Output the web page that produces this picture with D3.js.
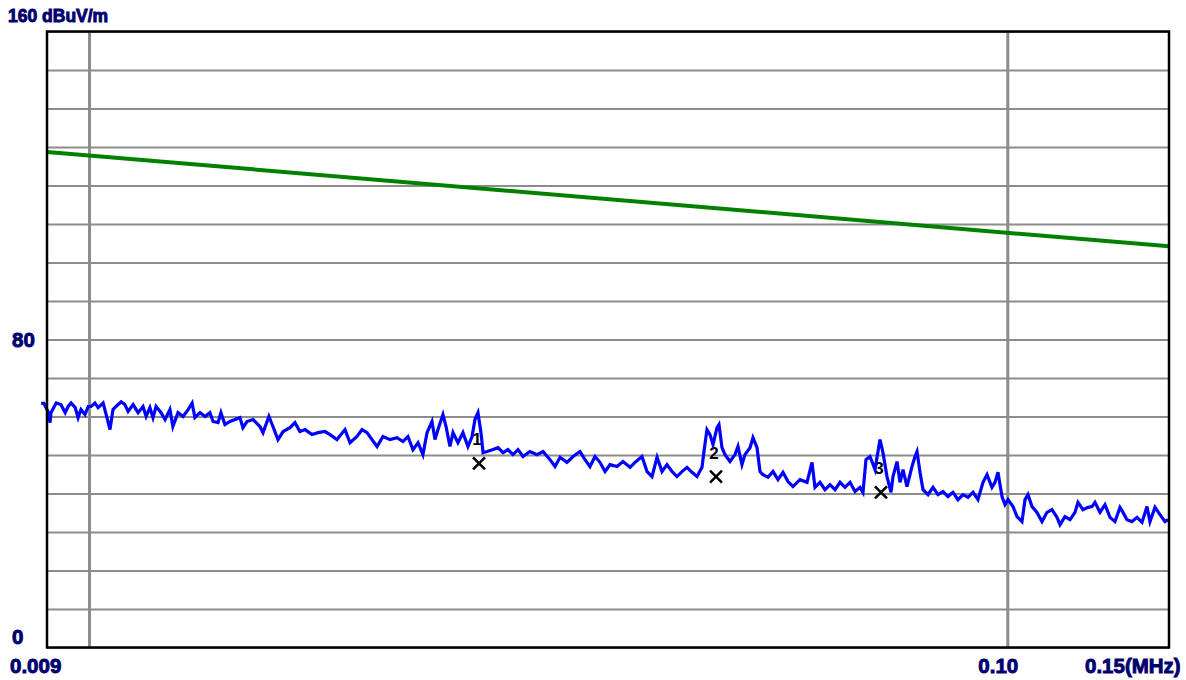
<!DOCTYPE html>
<html>
<head>
<meta charset="utf-8">
<script src="https://cdn.jsdelivr.net/npm/d3@7"></script>
<style>
  html, body { margin: 0; padding: 0; background: #ffffff; }
  svg { display: block; }
  .lbl { font-family: "Liberation Sans", Arial, sans-serif; font-weight: bold; fill: #00006e;
         stroke: #00006e; stroke-width: 0.9px; }
</style>
</head>
<body>
<svg id="chart" width="1186" height="680"></svg>
<script>
// Measured field strength sweep (frequency in kHz, level in dBuV/m)
const freqKHz = [
  8.87, 8.93, 9.02, 9.07, 9.09, 9.21, 9.32, 9.42, 9.49, 9.56, 9.66, 9.73, 9.80, 9.90, 9.98,
  10.05, 10.15, 10.23, 10.36, 10.44, 10.54, 10.62, 10.70, 10.84, 10.94, 11.03, 11.17, 11.31,
  11.45, 11.54, 11.65, 11.74, 11.83, 11.98, 12.10, 12.25, 12.34, 12.50, 12.66, 12.82, 12.95,
  13.04, 13.21, 13.38, 13.54, 13.65, 13.82, 13.92, 14.06, 14.24, 14.42, 14.60, 14.71, 14.86,
  15.09, 15.35, 15.47, 15.70, 15.86, 16.06, 16.27, 16.55, 16.76, 16.97, 17.19, 17.49, 17.76,
  18.07, 18.30, 18.62, 19.00, 19.24, 19.58, 19.83, 20.08, 20.33, 20.59, 20.90, 21.27, 21.65,
  21.97, 22.25, 22.53, 22.82, 23.10, 23.34, 23.63, 23.81, 23.99, 24.29, 24.48, 24.72, 24.91,
  25.22, 25.54, 25.86, 26.13, 26.32, 26.52, 26.72, 26.86, 27.13, 27.54, 27.89, 28.24, 28.59,
  28.95, 29.32, 29.69, 30.21, 30.75, 31.22, 31.77, 32.17, 32.58, 33.15, 33.66, 34.25, 34.68,
  35.12, 35.56, 36.01, 36.47, 36.93, 37.58, 38.15, 38.83, 39.32, 40.01, 40.52, 41.03, 41.55,
  42.07, 42.60, 43.14, 43.68, 44.23, 44.79, 45.36, 45.93, 46.51, 46.74, 47.09, 47.45, 47.81,
  48.29, 48.53, 48.90, 49.27, 49.89, 50.52, 50.90, 51.41, 51.80, 52.46, 52.85, 53.39, 53.79,
  54.19, 54.88, 55.57, 56.27, 56.98, 57.70, 58.43, 59.46, 60.52, 61.28, 61.74, 62.52, 63.31,
  64.11, 64.92, 65.74, 66.57, 67.41, 68.26, 69.12, 69.64, 70.16, 70.87, 71.77, 72.67, 73.22,
  73.96, 74.70, 75.08, 75.84, 76.41, 76.99, 77.76, 78.74, 79.34, 79.74, 80.34, 80.95, 81.97,
  83.00, 84.05, 85.11, 86.18, 87.27, 88.37, 89.48, 90.61, 91.76, 92.91, 94.09, 95.04, 96.23,
  96.96, 97.69, 98.68, 99.42, 100.17, 101.44, 102.46, 103.75, 104.54, 105.32, 106.39, 107.73,
  109.09, 110.46, 111.85, 113.27, 114.13, 115.56, 117.03, 118.50, 119.39, 120.90, 122.43,
  123.66, 124.59, 126.17, 127.76, 129.37, 131.00, 132.65, 133.66, 135.00, 136.70, 138.43,
  140.18, 141.94, 143.01, 144.82, 146.65, 148.50, 149.61
];
const levelDb = [
  63.4, 63.4, 61.3, 58.4, 61.0, 63.5, 63.1, 61.0, 62.6, 63.5, 62.3, 59.7, 61.8, 60.5, 62.6,
  62.6, 63.5, 62.3, 63.5, 60.5, 56.6, 61.8, 62.6, 63.8, 63.1, 61.3, 63.1, 61.0,
  62.6, 60.0, 62.3, 59.7, 62.6, 61.0, 59.2, 61.8, 57.4, 61.0, 60.0, 61.8, 63.5,
  59.7, 61.0, 60.0, 61.0, 58.7, 58.4, 61.0, 57.9, 58.7, 59.2, 59.7, 57.1, 58.7,
  59.2, 57.4, 55.8, 60.0, 57.4, 54.0, 56.1, 57.1, 58.4, 56.1, 56.6, 55.3, 55.8,
  56.1, 55.3, 54.0, 56.6, 53.2, 54.8, 56.6, 55.8, 54.0, 52.2, 54.8, 54.0, 54.5,
  53.5, 54.8, 51.4, 53.2, 50.1, 55.8, 58.7, 54.0, 56.6, 60.5, 57.4, 52.2, 55.8,
  53.2, 55.8, 52.2, 54.8, 59.2, 61.0, 55.8, 50.6, 50.9, 51.4, 51.9, 50.6, 51.4,
  50.1, 51.4, 49.6, 50.9, 50.1, 50.9, 48.8, 47.0, 49.4, 48.1, 49.6, 50.9, 48.8,
  47.0, 49.6, 48.1, 45.7, 47.5, 47.0, 48.3, 46.8, 48.1, 49.6, 45.7, 44.4, 49.4,
  45.7, 47.5, 45.7, 44.4, 45.7, 46.8, 45.5, 44.4, 46.8, 50.9, 56.6, 55.3, 52.7,
  57.1, 57.9, 51.9, 50.1, 48.3, 50.1, 52.2, 47.5, 50.1, 51.9, 54.5, 51.9, 45.7,
  44.9, 44.2, 45.7, 43.6, 45.5, 43.1, 41.8, 43.6, 42.9, 48.1, 41.6, 42.9, 41.0,
  42.3, 41.0, 42.9, 41.6, 42.9, 40.5, 41.6, 40.3, 48.8, 49.6, 46.2, 54.0, 50.6,
  44.4, 40.3, 44.4, 48.3, 42.9, 46.2, 41.8, 47.0, 49.6, 50.9, 45.5, 41.0, 39.7,
  41.6, 39.7, 40.5, 39.2, 40.3, 38.4, 39.7, 39.0, 40.3, 38.4, 42.9, 44.9, 41.6,
  42.9, 45.5, 39.2, 37.1, 38.4, 36.6, 34.0, 32.7, 38.4, 39.7, 36.6, 35.1,
  32.7, 35.1, 35.8, 33.8, 31.9, 34.0, 33.2, 35.1, 37.7, 35.8, 36.4,
  36.6, 37.7, 35.1, 37.1, 33.8, 32.7, 36.4, 35.1, 33.2, 32.7, 33.8,
  32.5, 36.6, 32.7, 36.4, 34.5, 32.7, 33.2
];

// Limit line (straight in log frequency)
const limitFreqKHz = [9, 150];
const limitDb = [128.7, 104.2];

// Peak markers
const markerFreqKHz = [26.59, 48.17, 72.85];
const markerDb = [47.8, 44.4, 40.3];
const markerNames = ["1", "2", "3"];

// Axis ticks and grid
const yGridDb = [0, 10, 20, 30, 40, 50, 60, 70, 80, 90, 100, 110, 120, 130, 140, 150, 160];
const yLabelDb = [80, 0];
const yLabelText = ["80", "0"];
const xGridKHz = [10, 100];
const xLabelKHz = [9, 100, 150];
const xLabelText = ["0.009", "0.10", "0.15(MHz)"];
const unitText = "160 dBuV/m";

(function draw() {
  const svg = d3.select("#chart");
  const plotL = 47, plotR = 1169, plotT = 31.5, plotB = 647.5;

  const x = d3.scaleLog().domain([9, 150]).range([plotL, plotR]);
  const y = d3.scaleLinear().domain([0, 160]).range([plotB, plotT]);

  // horizontal grid
  svg.append("g")
    .attr("transform", `translate(${plotL},0)`)
    .call(d3.axisLeft(y).tickValues(yGridDb).tickSize(-(plotR - plotL)).tickFormat(""))
    .call(g => g.select(".domain").remove())
    .call(g => g.selectAll("line").attr("stroke", "#8c8c8c").attr("stroke-width", 2));

  // vertical grid
  svg.append("g")
    .attr("transform", `translate(0,${plotT})`)
    .call(d3.axisBottom(x).tickValues(xGridKHz).tickSize(plotB - plotT).tickFormat(""))
    .call(g => g.select(".domain").remove())
    .call(g => g.selectAll("line").attr("stroke", "#8c8c8c").attr("stroke-width", 3));

  // marker numbers sit under the trace
  svg.append("g").selectAll("text")
    .data(markerFreqKHz)
    .join("text")
    .attr("x", d => x(d) - 2)
    .attr("y", (d, i) => y(markerDb[i]) - 18)
    .attr("text-anchor", "middle")
    .attr("font-family", "Liberation Sans, Arial, sans-serif")
    .attr("font-weight", "bold")
    .attr("font-size", 17)
    .attr("fill", "#000000")
    .text((d, i) => markerNames[i]);

  // limit line
  const limitLine = d3.line().x((d, i) => x(limitFreqKHz[i])).y(d => y(d));
  svg.append("path")
    .attr("d", limitLine(limitDb))
    .attr("fill", "none")
    .attr("stroke", "#008000")
    .attr("stroke-width", 4);

  // measured trace
  const trace = d3.line().x((d, i) => x(freqKHz[i])).y(d => y(d));
  svg.append("path")
    .attr("d", trace(levelDb))
    .attr("fill", "none")
    .attr("stroke", "#0000ff")
    .attr("stroke-width", 3.2)
    .attr("stroke-linejoin", "miter");

  // marker crosses
  const cross = svg.append("g").selectAll("g")
    .data(markerFreqKHz)
    .join("g")
    .attr("transform", (d, i) => `translate(${x(d)},${y(markerDb[i])})`);
  cross.append("line").attr("x1", -6).attr("y1", -6).attr("x2", 6).attr("y2", 6)
    .attr("stroke", "#000").attr("stroke-width", 2.5);
  cross.append("line").attr("x1", -6).attr("y1", 6).attr("x2", 6).attr("y2", -6)
    .attr("stroke", "#000").attr("stroke-width", 2.5);

  // frame
  svg.append("rect")
    .attr("x", plotL).attr("y", plotT)
    .attr("width", plotR - plotL).attr("height", plotB - plotT)
    .attr("fill", "none").attr("stroke", "#000").attr("stroke-width", 2.5);

  // labels
  svg.append("text").attr("class", "lbl")
    .attr("x", 8).attr("y", 22).attr("font-size", 17.5)
    .text(unitText);

  svg.append("g").selectAll("text")
    .data(yLabelDb)
    .join("text")
    .attr("class", "lbl")
    .attr("x", 12)
    .attr("y", (d, i) => i === 0 ? y(d) + 7 : 644)
    .attr("font-size", 20.5)
    .text((d, i) => yLabelText[i]);

  svg.append("g").selectAll("text")
    .data(xLabelKHz)
    .join("text")
    .attr("class", "lbl")
    .attr("x", (d, i) => i === 0 ? 10 : (i === 1 ? x(d) - 29 : x(d) - 84))
    .attr("y", 673)
    .attr("font-size", 20.5)
    .text((d, i) => xLabelText[i]);
})();
</script>
</body>
</html>
